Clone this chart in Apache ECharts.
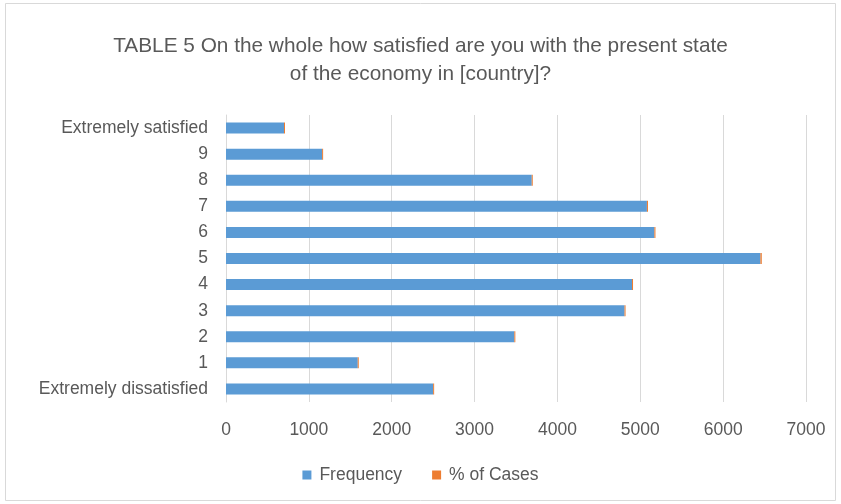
<!DOCTYPE html>
<html>
<head>
<meta charset="utf-8">
<script src="https://cdn.jsdelivr.net/npm/echarts@6/dist/echarts.min.js"></script>
<style>
  html, body { margin: 0; padding: 0; background: #fff; }
  #chart { width: 841px; height: 504px; }
</style>
</head>
<body>
<div id="chart"></div>
<script>
// categories, bottom to top as drawn on the axis
const categories = ['Extremely dissatisfied', '1', '2', '3', '4', '5', '6', '7', '8', '9', 'Extremely satisfied'];
const frequency = [2500, 1590, 3480, 4810, 4900, 6450, 5170, 5080, 3690, 1160, 700];
const pctCases = [6.3, 4.0, 8.8, 12.2, 12.4, 16.3, 13.1, 12.9, 9.3, 2.9, 1.8];
const xTicks = [0, 1000, 2000, 3000, 4000, 5000, 6000, 7000];

const txt = '#595959';
const font = 'Liberation Sans';

const chart = echarts.init(document.getElementById('chart'));
chart.setOption({
  backgroundColor: '#fff',
  title: {
    text: 'TABLE 5 On the whole how satisfied are you with the present state\nof the economy in [country]?',
    left: 'center',
    top: 27,
    textStyle: { color: txt, fontFamily: font, fontSize: 20.8, fontWeight: 'normal', lineHeight: 28 }
  },
  legend: {
    bottom: 15,
    left: 'center',
    itemWidth: 9,
    itemHeight: 9,
    itemGap: 30,
    icon: 'rect',
    textStyle: { color: txt, fontFamily: font, fontSize: 17.5, padding: [0, 0, 0, 3] },
    data: ['Frequency', '% of Cases']
  },
  grid: { left: 226, right: 35, top: 115, bottom: 102, containLabel: false },
  xAxis: {
    type: 'value',
    min: xTicks[0],
    max: xTicks[xTicks.length - 1],
    interval: 1000,
    axisLine: { show: false },
    axisTick: { show: false },
    splitLine: { lineStyle: { color: '#d9d9d9', width: 1 } },
    axisLabel: { color: txt, fontFamily: font, fontSize: 17.5, margin: 19, formatter: v => String(v) }
  },
  yAxis: {
    type: 'category',
    data: categories,
    axisLine: { show: true, lineStyle: { color: '#d9d9d9' } },
    axisTick: { show: false },
    axisLabel: { color: txt, fontFamily: font, fontSize: 17.5, margin: 18 }
  },
  series: [
    {
      name: 'Frequency',
      type: 'bar',
      stack: 'total',
      data: frequency,
      barWidth: 11,
      itemStyle: { color: '#5B9BD5' }
    },
    {
      name: '% of Cases',
      type: 'bar',
      stack: 'total',
      data: pctCases,
      barWidth: 11,
      barMinHeight: 1,
      itemStyle: { color: '#ED7D31' }
    }
  ],
  graphic: [{
    type: 'rect',
    shape: { x: 5.5, y: 3.5, width: 830, height: 497 },
    style: { fill: 'none', stroke: '#d9d9d9', lineWidth: 1 },
    silent: true
  }]
});
</script>
</body>
</html>
